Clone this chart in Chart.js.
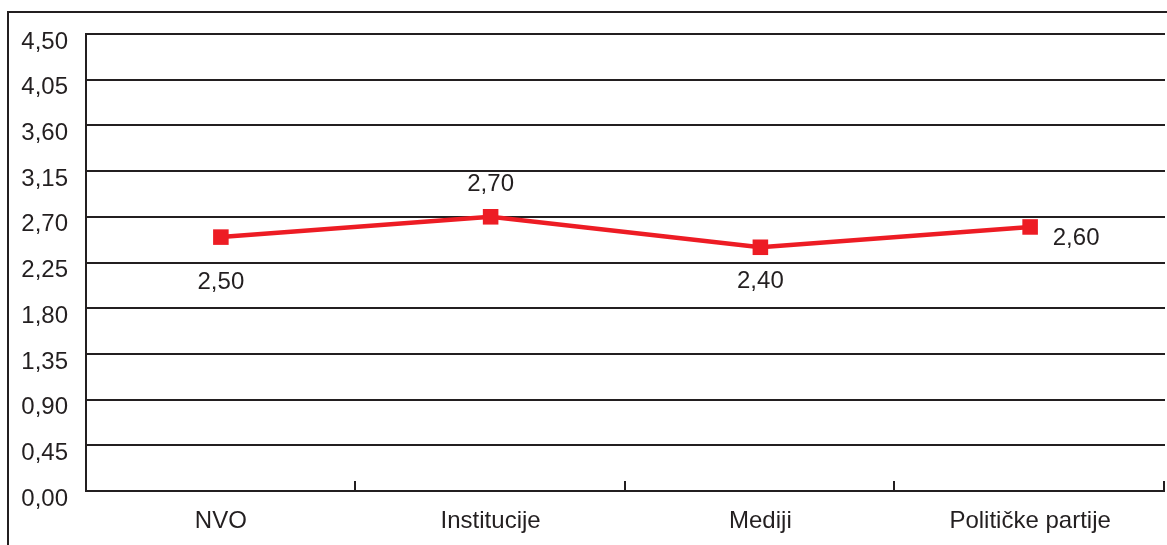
<!DOCTYPE html>
<html>
<head>
<meta charset="utf-8">
<script src="https://cdn.jsdelivr.net/npm/chart.js@4"></script>
<style>
  html, body { margin: 0; padding: 0; background: #ffffff; }
  #wrap { width: 1167px; height: 545px; position: relative; }
</style>
</head>
<body>
<div id="wrap"><canvas id="c" width="1167" height="545"></canvas></div>
<script>
// Categories and mean scores
const categories = ['NVO', 'Institucije', 'Mediji', 'Političke partije'];
const scores = [2.50, 2.70, 2.40, 2.60];
// Value-axis ticks
const yTicks = [0, 0.45, 0.90, 1.35, 1.80, 2.25, 2.70, 3.15, 3.60, 4.05, 4.50];
// Pixel shift of each value label from its point (dx, dy)
const labelShift = [[0, 45], [0, -32], [0, 34], [46, 11]];

const INK = '#231F20';
const RED = '#ED1C24';
const FONT = '"Liberation Sans", Arial, Helvetica, sans-serif';

const fmt = v => v.toFixed(2).replace('.', ',');

// Outer frame lines (top and left) around the figure
const framePlugin = {
  id: 'frame',
  beforeDraw(chart) {
    const ctx = chart.ctx;
    ctx.save();
    ctx.strokeStyle = INK;
    ctx.lineWidth = 2;
    ctx.beginPath();
    ctx.moveTo(8, 545);
    ctx.lineTo(8, 12);
    ctx.lineTo(1167, 12);
    ctx.stroke();
    ctx.restore();
  }
};

// Short upward tick marks at the category boundaries on the base line
const boundaryTicks = {
  id: 'boundaryTicks',
  afterDatasetsDraw(chart) {
    const x = chart.scales.x;
    const y = chart.scales.y;
    const base = y.getPixelForValue(0);
    const n = categories.length;
    const step = (x.getPixelForValue(1) - x.getPixelForValue(0));
    const ctx = chart.ctx;
    ctx.save();
    ctx.strokeStyle = INK;
    ctx.lineWidth = 2;
    for (let i = 1; i <= n; i++) {
      const px = Math.round(x.getPixelForValue(i - 1) + step / 2) - 1;
      ctx.beginPath();
      ctx.moveTo(px, base);
      ctx.lineTo(px, base - 10);
      ctx.stroke();
    }
    ctx.restore();
  }
};

// Value labels next to each point
const valueLabels = {
  id: 'valueLabels',
  afterDatasetsDraw(chart) {
    const meta = chart.getDatasetMeta(0);
    const ctx = chart.ctx;
    ctx.save();
    ctx.fillStyle = INK;
    ctx.font = '24px ' + FONT;
    ctx.textBaseline = 'middle';
    ctx.textAlign = 'center';
    meta.data.forEach((pt, i) => {
      const [dx, dy] = labelShift[i];
      ctx.fillText(fmt(scores[i]), pt.x + dx, pt.y + dy);
    });
    ctx.restore();
  }
};

new Chart(document.getElementById('c'), {
  type: 'line',
  data: {
    labels: categories,
    datasets: [{
      data: scores,
      borderColor: RED,
      backgroundColor: RED,
      borderWidth: 4.5,
      pointStyle: 'rect',
      pointRadius: 11,
      pointBorderWidth: 0,
      pointBackgroundColor: RED,
      tension: 0,
      fill: false
    }]
  },
  options: {
    responsive: false,
    animation: false,
    devicePixelRatio: 1,
    layout: { autoPadding: false, padding: { top: 34, right: 2, left: 0, bottom: 0 } },
    plugins: {
      legend: { display: false },
      tooltip: { enabled: false },
      title: { display: false }
    },
    scales: {
      x: {
        type: 'category',
        offset: true,
        grid: { display: false, drawTicks: false },
        border: { display: false },
        ticks: {
          color: INK,
          font: { family: FONT, size: 24 },
          padding: 16,
          maxRotation: 0,
          autoSkip: false
        },
        afterFit(scale) { scale.height = 54; }
      },
      y: {
        min: 0,
        max: 4.5,
        afterBuildTicks(scale) {
          scale.ticks = yTicks.map(v => ({ value: v }));
        },
        grid: {
          color: INK,
          lineWidth: 2,
          drawTicks: false
        },
        border: { display: true, color: INK, width: 2 },
        ticks: {
          color: INK,
          font: { family: FONT, size: 24 },
          padding: 18,
          labelOffset: 8,
          callback: v => fmt(v)
        },
        afterFit(scale) { scale.width = 86; }
      }
    }
  },
  plugins: [framePlugin, boundaryTicks, valueLabels]
});
</script>
</body>
</html>
